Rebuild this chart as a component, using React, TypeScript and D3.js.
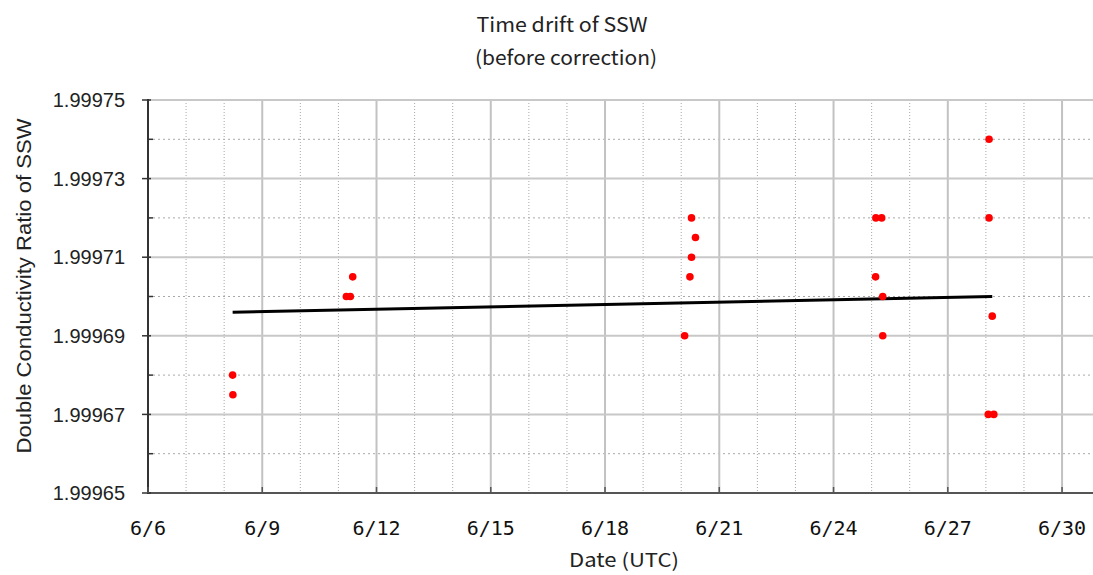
import React from "react";
import * as d3 from "d3";

const title1 = "Time drift of SSW";
const title2 = "(before correction)";
const xTitle = "Date (UTC)";
const yTitle = "Double Conductivity Ratio of SSW";

const obsTimes = [
  "2009-06-08T05:20", "2009-06-08T05:30",
  "2009-06-11T05:00", "2009-06-11T07:30", "2009-06-11T09:00",
  "2009-06-20T02:10", "2009-06-20T05:30", "2009-06-20T06:30", "2009-06-20T06:30", "2009-06-20T09:00",
  "2009-06-25T02:30", "2009-06-25T02:40", "2009-06-25T06:20", "2009-06-25T07:00", "2009-06-25T07:00",
  "2009-06-28T02:00", "2009-06-28T02:00", "2009-06-28T01:30", "2009-06-28T05:00", "2009-06-28T04:00",
];
const ratios = [
  1.99968, 1.999675,
  1.9997, 1.9997, 1.999705,
  1.99969, 1.999705, 1.99971, 1.99972, 1.999715,
  1.999705, 1.99972, 1.99972, 1.9997, 1.99969,
  1.99974, 1.99972, 1.99967, 1.99967, 1.999695,
];
const trendTimes = ["2009-06-08T05:20", "2009-06-28T04:00"];
const trendValues = [1.999696, 1.9997];

const xTickDays = [6, 9, 12, 15, 18, 21, 24, 27, 30];
const yTicks = [1.99965, 1.99967, 1.99969, 1.99971, 1.99973, 1.99975];
const yMinorTicks = [1.99966, 1.99968, 1.9997, 1.99972, 1.99974];

const W = 1093;
const H = 575;
const left = 148;
const right = 1093;
const top = 100;
const bottom = 493;

const parse = (s: string) => new Date(s + ":00");

export default function App() {
  const x = d3
    .scaleTime()
    .domain([new Date(2009, 5, 6), new Date(2009, 5, 30, 19, 30)])
    .range([left, right]);
  const y = d3.scaleLinear().domain([1.99965, 1.99975]).range([bottom, top]);

  const days = d3.range(7, 31).filter((d) => (d - 6) % 3 !== 0);
  const trend = d3
    .line<[Date, number]>()
    .x((d) => x(d[0]))
    .y((d) => y(d[1]));
  const trendData: [Date, number][] = trendTimes.map((t, i) => [parse(t), trendValues[i]]);

  return (
    <svg width={W} height={H} style={{ position: "absolute", left: 0, top: 0, background: "#fff" }}>
      <rect x={0} y={0} width={W} height={H} fill="#fff" />
      {/* minor grid */}
      {days.map((d) => (
        <line key={"vm" + d} x1={x(new Date(2009, 5, d))} x2={x(new Date(2009, 5, d))} y1={top} y2={bottom}
          stroke="#a8a8a8" strokeWidth={1} strokeDasharray="1,2" />
      ))}
      {yMinorTicks.map((v) => (
        <line key={"hm" + v} x1={left} x2={right} y1={y(v)} y2={y(v)}
          stroke="#a8a8a8" strokeWidth={1} strokeDasharray="2,3" />
      ))}
      {/* major grid */}
      {xTickDays.slice(1).map((d) => (
        <line key={"vM" + d} x1={x(new Date(2009, 5, d))} x2={x(new Date(2009, 5, d))} y1={top} y2={bottom}
          stroke="#c2c2c2" strokeWidth={2} />
      ))}
      {yTicks.slice(1).map((v) => (
        <line key={"hM" + v} x1={left} x2={right} y1={y(v)} y2={y(v)}
          stroke="#c8c8c8" strokeWidth={2} />
      ))}
      {/* axes */}
      <line x1={left} x2={right} y1={bottom} y2={bottom} stroke="#555" strokeWidth={2} />
      <line x1={left} x2={left} y1={top - 1} y2={bottom + 1} stroke="#333" strokeWidth={2} />
      {yTicks.map((v) => (
        <line key={"yt" + v} x1={left - 6} x2={left + 3} y1={y(v)} y2={y(v)} stroke="#333" strokeWidth={1.5} />
      ))}
      {yMinorTicks.map((v) => (
        <line key={"ytm" + v} x1={left} x2={left + 5} y1={y(v)} y2={y(v)} stroke="#333" strokeWidth={1.5} />
      ))}
      {xTickDays.map((d) => (
        <line key={"xt" + d} x1={x(new Date(2009, 5, d))} x2={x(new Date(2009, 5, d))} y1={bottom} y2={bottom - 6}
          stroke="#555" strokeWidth={1.5} />
      ))}
      {/* tick labels */}
      {yTicks.map((v) => (
        <text key={"yl" + v} x={125} y={y(v)} dy="0.36em" textAnchor="end"
          fontFamily="'Liberation Sans', Arial, sans-serif" fontSize={20} fill="#222">
          {d3.format(".5f")(v)}
        </text>
      ))}
      {xTickDays.map((d) => (
        <text key={"xl" + d} x={x(new Date(2009, 5, d))} y={535} textAnchor="middle"
          fontFamily="'DejaVu Sans Mono', monospace" fontSize={20} fill="#111">
          {"6/" + d}
        </text>
      ))}
      {/* trend line */}
      <path d={trend(trendData) || ""} fill="none" stroke="#000" strokeWidth={3} />
      {/* points */}
      {obsTimes.map((t, i) => (
        <circle key={"p" + i} cx={x(parse(t))} cy={y(ratios[i])} r={3.8} fill="#ff0000" />
      ))}
      {/* titles */}
      <text x={562} y={32} textAnchor="middle" fontFamily="'Noto Sans CJK JP', sans-serif" fontSize={20}
        fill="#222" textLength={171} lengthAdjust="spacingAndGlyphs">{title1}</text>
      <text x={566} y={65} textAnchor="middle" fontFamily="'Noto Sans CJK JP', sans-serif" fontSize={20}
        fill="#222" textLength={182} lengthAdjust="spacingAndGlyphs">{title2}</text>
      <text x={624} y={567} textAnchor="middle" fontFamily="'Noto Sans CJK JP', sans-serif" fontSize={19}
        fill="#222" textLength={110} lengthAdjust="spacingAndGlyphs">{xTitle}</text>
      <text transform="translate(31,286) rotate(-90)" textAnchor="middle"
        fontFamily="'Liberation Sans', Arial, sans-serif" fontSize={21} fill="#222"
        textLength={335} lengthAdjust="spacingAndGlyphs">{yTitle}</text>
    </svg>
  );
}
